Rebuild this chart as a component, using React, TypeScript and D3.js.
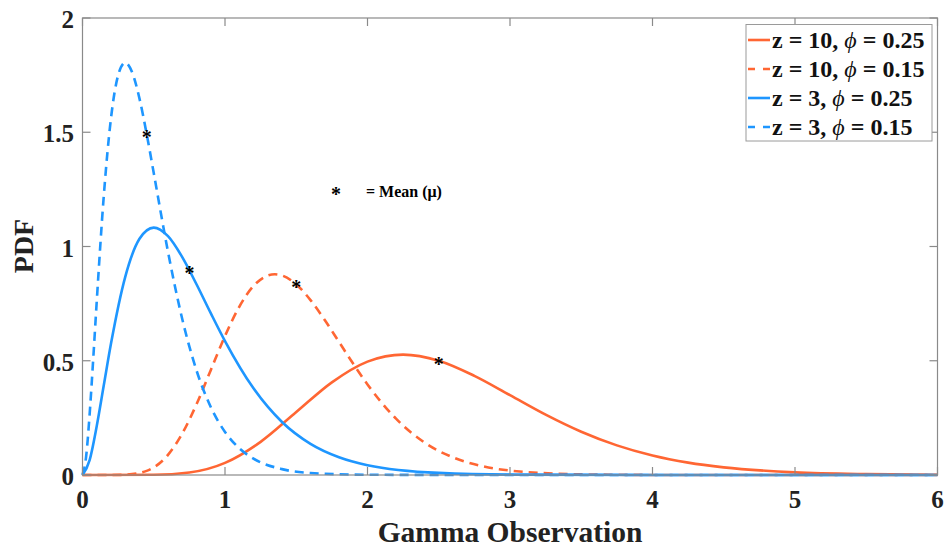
import React from 'react';
import { scaleLinear, line, curveMonotoneX } from 'd3';

// values
const xA = [0, 0.5, 0.75, 1, 1.25, 1.5, 1.75, 2, 2.25, 2.5, 2.75, 3, 3.25, 3.5, 3.75, 4, 4.25, 4.5, 5, 5.5, 6];
const yA = [0, 0.0008, 0.0108, 0.0529, 0.1451, 0.2754, 0.4056, 0.4963, 0.527, 0.5004, 0.4341, 0.3495, 0.2642, 0.1894, 0.1296, 0.0853, 0.0541, 0.0333, 0.0116, 0.0037, 0.0011];

const xB = [0, 0.2, 0.3, 0.45, 0.5, 0.6, 0.7, 0.8, 0.9, 1, 1.1, 1.2, 1.3, 1.35, 1.4, 1.5, 1.6, 1.7, 1.8, 1.9, 2, 2.2, 2.4, 2.6, 2.8, 3, 3.5, 4, 6];
const yB = [0, 0.0001, 0.0013, 0.018, 0.0333, 0.0882, 0.1814, 0.3096, 0.4589, 0.6082, 0.7362, 0.8272, 0.8728, 0.8783, 0.8731, 0.8341, 0.7655, 0.6781, 0.5824, 0.4865, 0.3963, 0.2464, 0.1421, 0.077, 0.0395, 0.0194, 0.0028, 0.0003, 0];

const xC = [0, 0.05, 0.1, 0.15, 0.2, 0.3, 0.4, 0.5, 0.6, 0.7, 0.8, 0.9, 1, 1.2, 1.4, 1.6, 1.8, 2, 2.5, 3, 4, 6];
const yC = [0, 0.0655, 0.2145, 0.3951, 0.5751, 0.8674, 1.0337, 1.0827, 1.0451, 0.9535, 0.8348, 0.7082, 0.5861, 0.3792, 0.2319, 0.1361, 0.0774, 0.0429, 0.0091, 0.0018, 0.0001, 0];

const xD = [0, 0.025, 0.05, 0.075, 0.1, 0.15, 0.2, 0.25, 0.3, 0.35, 0.4, 0.45, 0.5, 0.6, 0.7, 0.8, 0.9, 1, 1.1, 1.2, 1.4, 1.6, 2, 3, 6];
const yD = [0, 0.0784, 0.2654, 0.5054, 0.7606, 1.2263, 1.5621, 1.7489, 1.8045, 1.7598, 1.647, 1.4936, 1.3213, 0.9768, 0.6826, 0.4578, 0.2975, 0.1885, 0.1171, 0.0716, 0.0257, 0.0088, 0.001, 0, 0];

// means (marked with *)
const meanX = [2.5, 1.5, 0.75, 0.45];
const meanY = [0.5004, 0.8341, 0.896, 1.4936];

const xTicks = [0, 1, 2, 3, 4, 5, 6];
const yTicks = [0, 0.5, 1, 1.5, 2];
const yTickLabels = ['0', '0.5', '1', '1.5', '2'];

const zVals = ['10', '10', '3', '3'];
const phiVals = ['0.25', '0.15', '0.25', '0.15'];

const orange = '#FF6633';
const blue = '#1E96FF';
const colors = [orange, orange, blue, blue];
const dashed = [false, true, false, true];

const width = 947;
const height = 550;
const left = 82.5;
const right = 937.5;
const top = 18;
const bottom = 475;
const font = '"Liberation Serif", "Times New Roman", serif';
const axisColor = '#8a8a8a';

const App = () => {
  const x = scaleLinear().domain([0, 6]).range([left, right]);
  const y = scaleLinear().domain([0, 2]).range([bottom, top]);

  const series = [
    { xs: xA, ys: yA },
    { xs: xB, ys: yB },
    { xs: xC, ys: yC },
    { xs: xD, ys: yD },
  ];

  const path = line<number>()
    .curve(curveMonotoneX);

  const tick = 8;

  return (
    <svg width={width} height={height} style={{ position: 'absolute', left: 0, top: 0, background: '#fff' }}>
      {/* curves */}
      {series.map((s, i) => (
        <path
          key={i}
          d={path.x((_, j) => x(s.xs[j])).y((d) => y(d))(s.ys) || ''}
          fill="none"
          stroke={colors[i]}
          strokeWidth={2.6}
          strokeDasharray={dashed[i] ? '9,6' : undefined}
        />
      ))}

      {/* axes box */}
      <rect x={left} y={top} width={right - left} height={bottom - top} fill="none" stroke={axisColor} strokeWidth={1.2} />
      {xTicks.map((t) => (
        <g key={'x' + t}>
          <line x1={x(t)} x2={x(t)} y1={bottom} y2={bottom - tick} stroke={axisColor} strokeWidth={1.2} />
          <line x1={x(t)} x2={x(t)} y1={top} y2={top + tick} stroke={axisColor} strokeWidth={1.2} />
          <text x={x(t)} y={508} textAnchor="middle" fontFamily={font} fontWeight="bold" fontSize={25} fill="#222">
            {t}
          </text>
        </g>
      ))}
      {yTicks.map((t, i) => (
        <g key={'y' + t}>
          <line x1={left} x2={left + tick} y1={y(t)} y2={y(t)} stroke={axisColor} strokeWidth={1.2} />
          <line x1={right} x2={right - tick} y1={y(t)} y2={y(t)} stroke={axisColor} strokeWidth={1.2} />
          <text x={74} y={y(t) + 10} textAnchor="end" fontFamily={font} fontWeight="bold" fontSize={25} fill="#222">
            {yTickLabels[i]}
          </text>
        </g>
      ))}

      {/* axis titles */}
      <text x={510} y={542} textAnchor="middle" fontFamily={font} fontWeight="bold" fontSize={29.5} fill="#222">
        Gamma Observation
      </text>
      <text
        transform={`translate(33,246) rotate(-90)`}
        textAnchor="middle"
        fontFamily={font}
        fontWeight="bold"
        fontSize={28}
        fill="#222"
      >
        PDF
      </text>

      {/* mean markers */}
      {meanX.map((m, i) => (
        <text key={'m' + i} x={x(m)} y={y(meanY[i]) + 10} textAnchor="middle" fontFamily={font} fontWeight="bold" fontSize={20} fill="#000">
          *
        </text>
      ))}
      <text x={336} y={201} textAnchor="middle" fontFamily={font} fontWeight="bold" fontSize={20} fill="#000">
        *
      </text>
      <text x={366} y={197} fontFamily={font} fontWeight="bold" fontSize={16} fill="#000">
        = Mean (μ)
      </text>

      {/* legend */}
      <rect x={746} y={24.5} width={186} height={116.5} fill="#fff" stroke="#9a9a9a" strokeWidth={1} />
      {zVals.map((z, i) => {
        const cy = 40 + i * 29;
        return (
          <g key={'l' + i}>
            <line
              x1={748}
              x2={770}
              y1={cy}
              y2={cy}
              stroke={colors[i]}
              strokeWidth={2.6}
              strokeDasharray={dashed[i] ? '7,8' : undefined}
            />
            <text x={772} y={cy + 8} fontFamily={font} fontWeight="bold" fontSize={24} fill="#111">
              {`z = ${z}, `}
              <tspan fontStyle="italic" fontWeight="normal">ϕ</tspan>
              {` = ${phiVals[i]}`}
            </text>
          </g>
        );
      })}
    </svg>
  );
};

export default App;
